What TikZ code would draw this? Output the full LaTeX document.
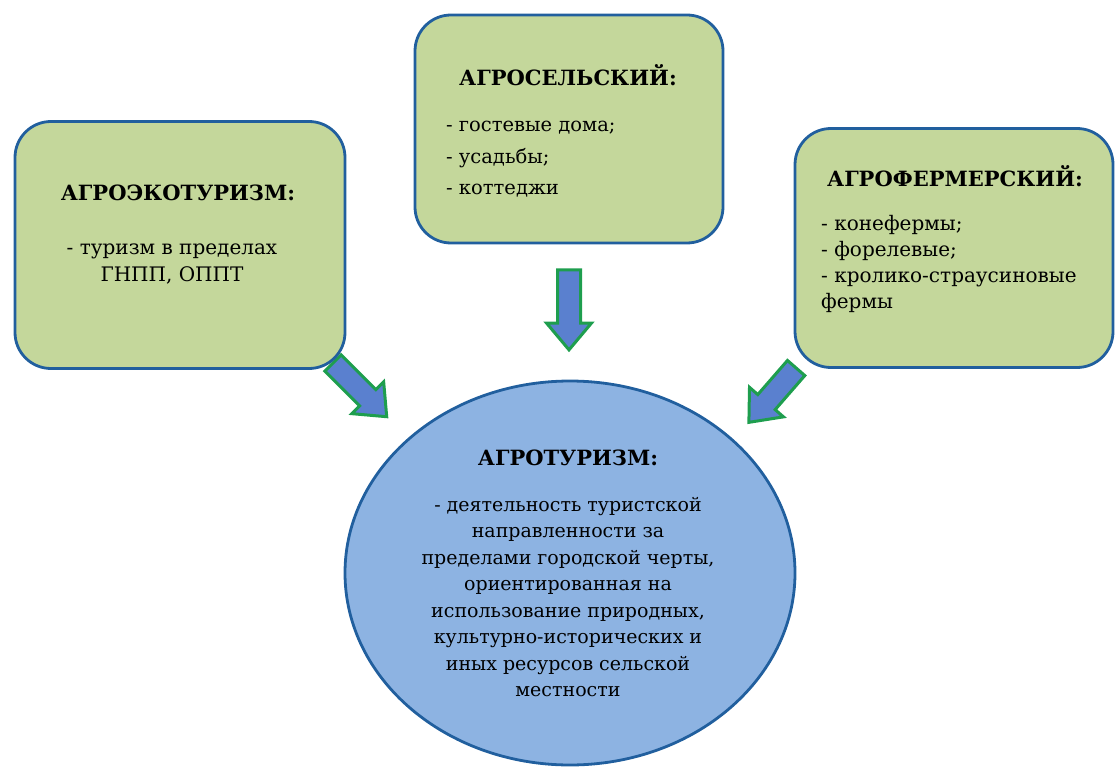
\documentclass[tikz,border=0pt]{standalone}
\usepackage{fontspec}
\newfontfamily\agrofont{DejaVu Serif}
\usetikzlibrary{shapes.geometric,shapes.arrows}
\definecolor{boxgreen}{HTML}{C4D79B}
\definecolor{edgeblue}{HTML}{215F9E}
\definecolor{ovalblue}{HTML}{8DB3E2}
\definecolor{arrowblue}{HTML}{5A80CF}
\definecolor{arrowgreen}{HTML}{1E9E4E}
\tikzset{
  agrobox/.style={draw=edgeblue, fill=boxgreen, line width=2.8pt, rounded corners=36pt, inner sep=0pt},
  agrooval/.style={ellipse, draw=edgeblue, fill=ovalblue, line width=2.8pt, inner sep=0pt},
  bigarrow/.style={single arrow, draw=arrowgreen, fill=arrowblue, line width=3pt,
    inner xsep=0pt, inner ysep=10pt, single arrow head extend=11pt,
    single arrow tip angle=80, single arrow head indent=0pt},
  boxtitle/.style={font=\agrofont\fontsize{21}{26}\selectfont\bfseries, inner sep=0pt},
  boxtext/.style={font=\agrofont\fontsize{20}{26.5}\selectfont, inner sep=0pt}
}
\begin{document}
\begin{tikzpicture}[x=1pt,y=-1pt]
  \useasboundingbox (0,0) rectangle (1115,767);
  % arrows first, the boxes cover their tails
  \node[bigarrow, minimum height=76pt, rotate=-45] (arrleft) at (355,385) {};
  \node[bigarrow, minimum height=80pt, rotate=-90] (arrmid) at (569,303) {};
  \node[bigarrow, minimum height=72pt, rotate=-131] (arrright) at (777,390) {};
  % boxes
  \node[agrobox, minimum width=330pt, minimum height=247pt] (eco) at (180,245) {};
  \node[agrobox, minimum width=308pt, minimum height=228pt] (sel) at (569,129) {};
  \node[agrobox, minimum width=318pt, minimum height=239pt] (ferm) at (954,248) {};
  \node[agrooval, minimum width=450pt, minimum height=384pt] (agro) at (570,573) {};
  % texts
  \node[boxtitle] (ecotitle) at (178,193) {АГРОЭКОТУРИЗМ:};
  \node[boxtext, align=center] (ecotext) at (172,264) {- туризм в пределах\\ГНПП, ОППТ};
  \node[boxtitle] (seltitle) at (568,75) {АГРОСЕЛЬСКИЙ:};
  \node[boxtext, align=left, anchor=north west, font=\agrofont\fontsize{19.5}{31.5}\selectfont] (seltext) at (446,121)
    {- гостевые дома;\\- усадьбы;\\- коттеджи};
  \node[boxtitle] (fermtitle) at (955,176) {АГРОФЕРМЕРСКИЙ:};
  \node[boxtext, align=left, anchor=north west, font=\agrofont\fontsize{20}{26}\selectfont] (fermtext) at (821,215)
    {- конефермы;\\- форелевые;\\- кролико-страусиновые\\фермы};
  \node[boxtitle] (agrotitle) at (568,458) {АГРОТУРИЗМ:};
  \node[boxtext, align=center, anchor=north, font=\agrofont\fontsize{19}{26.5}\selectfont] (agrotext) at (568,497)
    {- деятельность туристской\\направленности за\\пределами городской черты,\\ориентированная на\\использование природных,\\культурно-исторических и\\иных ресурсов сельской\\местности};
\end{tikzpicture}
\end{document}
